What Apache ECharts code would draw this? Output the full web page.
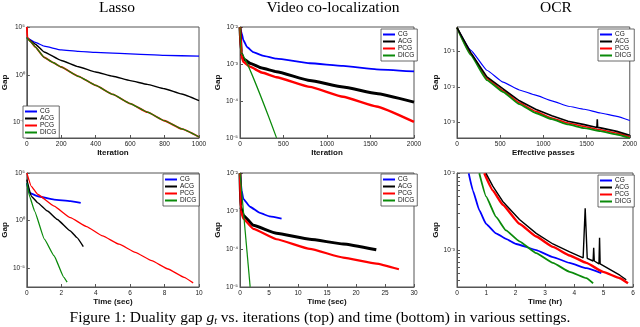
<!DOCTYPE html>
<html>
<head>
<meta charset="utf-8">
<script src="https://cdn.jsdelivr.net/npm/echarts@6/dist/echarts.min.js"></script>
<style>
  html, body { margin: 0; padding: 0; background: #fff; }
  #main { width: 640px; height: 327px; }
</style>
</head>
<body>
<div id="main"></div>
<script>
// ---- data ----
// Lasso, gap vs iteration
var lassoIterCgX = [0, 50, 100, 200, 300, 400, 600, 800, 1000];
var lassoIterCgY = [7.9e3, 2.5e3, 1.0e3, 400, 280, 220, 160, 110, 89];
var lassoIterAcgX = [0, 50, 100, 200, 300, 400, 500, 600, 700, 800, 900, 1000];
var lassoIterAcgY = [7.9e3, 1.6e3, 250, 32, 7.1, 2.0, 0.71, 0.25, 0.1, 3.5e-2, 1e-2, 2e-3];
var lassoIterPcgX = [0, 3, 20, 50, 100, 150, 200, 300, 400, 500, 600, 700, 800, 900, 1000];
var lassoIterPcgY = [1e5, 7.9e3, 3.2e3, 790, 69, 20, 6.6, 0.71, 7.9e-2, 8.9e-3, 1e-3, 1.26e-4, 1.6e-5, 2.2e-6, 3.2e-7];
var lassoIterDicgX = [0, 20, 50, 100, 150, 200, 300, 400, 500, 600, 700, 800, 900, 1000];
var lassoIterDicgY = [7.9e3, 3.2e3, 790, 69, 20, 6.6, 0.71, 7.9e-2, 8.9e-3, 1e-3, 1.26e-4, 1.6e-5, 2.2e-6, 3.2e-7];

// Video co-localization, gap vs iteration
var videoIterCgX = [0, 19, 38, 80, 153, 260, 420, 803, 1185, 1568, 2000];
var videoIterCgY = [1e-2, 6.9e-3, 4.5e-3, 2.9e-3, 2.1e-3, 1.7e-3, 1.4e-3, 1.05e-3, 8.9e-4, 7.2e-4, 6.3e-4];
var videoIterAcgX = [0, 15, 38, 115, 250, 420, 803, 1185, 1568, 2000];
var videoIterAcgY = [1e-2, 2.0e-3, 1.4e-3, 1.05e-3, 7.8e-4, 6.2e-4, 3.6e-4, 2.4e-4, 1.6e-4, 9.3e-5];
var videoIterPcgX = [0, 15, 38, 115, 250, 420, 803, 1185, 1568, 2000];
var videoIterPcgY = [1e-2, 1.8e-3, 1.15e-3, 8.5e-4, 5.9e-4, 4.4e-4, 2.4e-4, 1.3e-4, 7.1e-5, 2.7e-5];
var videoIterDicgX = [0, 10, 420];
var videoIterDicgY = [1e-2, 2e-3, 1e-5];

// OCR, gap vs effective passes
var ocrIterX = [0, 158, 346, 534, 722, 910, 1098, 1286, 1474, 1662, 1850, 2000];
var ocrIterCgY = [0.48, 0.11, 2.95e-2, 1.35e-2, 8.1e-3, 5.8e-3, 4.0e-3, 2.8e-3, 2.3e-3, 1.8e-3, 1.45e-3, 1.1e-3];
var ocrIterAcgX = [0, 158, 346, 534, 722, 910, 1098, 1286, 1474, 1620, 1624, 1628, 1662, 1850, 2000];
var ocrIterAcgY = [0.48, 9.5e-2, 1.9e-2, 8.7e-3, 4.0e-3, 2.3e-3, 1.5e-3, 1.05e-3, 8.4e-4, 7.0e-4, 1.2e-3, 7.0e-4, 6.8e-4, 5.4e-4, 4.2e-4];
var ocrIterPcgY = [0.48, 8.9e-2, 1.7e-2, 7.8e-3, 3.5e-3, 2.0e-3, 1.3e-3, 9.3e-4, 7.4e-4, 6.0e-4, 4.8e-4, 3.8e-4];
var ocrIterDicgY = [0.48, 8.1e-2, 1.55e-2, 7.1e-3, 3.2e-3, 1.8e-3, 1.2e-3, 8.5e-4, 6.7e-4, 5.5e-4, 4.4e-4, 3.5e-4];

// Lasso, gap vs time (sec)
var lassoTimeCgX = [0, 0.17, 0.64, 1.58, 2.53, 3.13];
var lassoTimeCgY = [8.9e3, 790, 360, 160, 110, 72];
var lassoTimeAcgX = [0, 0.26, 0.64, 1.2, 1.77, 2.53, 2.91, 3.28];
var lassoTimeAcgY = [2e4, 360, 72, 10, 1.3, 7.9e-2, 1.6e-2, 1.8e-3];
var lassoTimePcgX = [0, 0.26, 0.64, 1.58, 2.53, 3.47, 4.4, 5.36, 6.3, 7.25, 8.2, 9.13, 9.66];
var lassoTimePcgY = [1e5, 4e3, 550, 33, 2.0, 0.23, 2.4e-2, 3.2e-3, 4.4e-4, 5.9e-5, 7.9e-6, 1.05e-6, 2.7e-7];
var lassoTimeDicgX = [0, 0.17, 0.45, 1.02, 1.58, 2.15, 2.34];
var lassoTimeDicgY = [8.9e3, 320, 10, 1.1e-2, 1.95e-4, 1.05e-6, 3.2e-7];

// Video co-localization, gap vs time (sec)
var videoTimeCgX = [0, 0.29, 0.57, 1.72, 3.44, 5.16, 7.17];
var videoTimeCgY = [1e-2, 3.5e-3, 2.1e-3, 1.3e-3, 8.9e-4, 7.2e-4, 6.3e-4];
var videoTimeAcgX = [0, 0.11, 0.57, 2.29, 6.3, 12.05, 17.8, 23.5];
var videoTimeAcgY = [1e-2, 1.3e-3, 7.8e-4, 4.2e-4, 2.6e-4, 1.8e-4, 1.35e-4, 9.5e-5];
var videoTimePcgX = [0, 0.11, 0.57, 2.29, 6.3, 12.05, 17.8, 23.5, 27.4];
var videoTimePcgY = [1e-2, 1.05e-3, 6.3e-4, 3.4e-4, 1.8e-4, 1e-4, 5.9e-5, 4.1e-5, 2.9e-5];
var videoTimeDicgX = [0, 1.75];
var videoTimeDicgY = [1e-2, 1e-5];

// OCR, gap vs time (hr)
var ocrTimeCgX = [0.4, 0.54, 0.76, 0.99, 1.33, 1.67, 2.02, 2.7, 3.27, 3.84, 4.41, 4.92];
var ocrTimeCgY = [1e-2, 6.0e-3, 3.3e-3, 2.2e-3, 1.65e-3, 1.4e-3, 1.2e-3, 1e-3, 8.1e-4, 6.8e-4, 5.8e-4, 5.0e-4];
var ocrTimeAcgX = [0.99, 1.22, 1.56, 2.13, 2.7, 3.27, 3.84, 4.3, 4.37, 4.44, 4.64, 4.66, 4.68, 4.84, 4.86, 4.88, 5.55, 5.77];
var ocrTimeAcgY = [1e-2, 6.8e-3, 4.3e-3, 2.5e-3, 1.65e-3, 1.2e-3, 9.5e-4, 7.9e-4, 3.5e-3, 7.8e-4, 7.2e-4, 1.07e-3, 7.2e-4, 6.6e-4, 1.45e-3, 6.6e-4, 4.7e-4, 4.1e-4];
var ocrTimePcgX = [0.93, 1.22, 1.56, 2.13, 2.7, 3.27, 3.84, 4.41, 4.98, 5.55, 5.83];
var ocrTimePcgY = [1e-2, 6.0e-3, 3.9e-3, 2.2e-3, 1.5e-3, 1.1e-3, 8.5e-4, 6.8e-4, 5.2e-4, 4.3e-4, 3.7e-4];
var ocrTimeDicgX = [0.76, 0.99, 1.33, 1.67, 2.13, 2.7, 3.27, 3.84, 4.41, 4.64];
var ocrTimeDicgY = [1e-2, 5.0e-3, 2.7e-3, 1.8e-3, 1.3e-3, 9.1e-4, 6.8e-4, 5.2e-4, 4.3e-4, 3.7e-4];

var methods = ['CG', 'ACG', 'PCG', 'DICG'];
var colors = {CG: '#0000ff', ACG: '#000000', PCG: '#ff0000', DICG: '#0a8a0a'};
var titles = ['Lasso', 'Video co-localization', 'OCR'];
var xNames = ['Iteration', 'Iteration', 'Effective passes', 'Time (sec)', 'Time (sec)', 'Time (hr)'];

// ---- layout ----
var cols = [{left: 22, width: 177}, {left: 240, width: 174}, {left: 457, width: 176}];
var rows = [{top: 27, height: 111}, {top: 173, height: 114}];

var SUP = {'-': '\u207b', '0': '\u2070', '1': '\u00b9', '2': '\u00b2', '3': '\u00b3',
  '4': '\u2074', '5': '\u2075', '6': '\u2076', '7': '\u2077', '8': '\u2078', '9': '\u2079'};
function powLabel(v) {
  var e = Math.round(Math.log10(v));
  return '10' + String(e).split('').map(function (c) { return SUP[c]; }).join('');
}

function pts(xs, ys) {
  return xs.map(function (x, i) { return [x, ys[i]]; });
}

var grids = [];
rows.forEach(function (r) {
  cols.forEach(function (c) {
    grids.push({left: c.left, top: r.top, width: c.width, height: r.height,
      show: true, borderColor: '#555', borderWidth: 1, backgroundColor: 'transparent'});
  });
});

var axisFont = {fontSize: 6.5, color: '#222', fontFamily: 'Liberation Sans'};
var nameFont = {fontSize: 8, fontWeight: 'bold', color: '#111', fontFamily: 'Liberation Sans'};

function xAx(gi, max, interval) {
  return {
    type: 'value', gridIndex: gi, min: 0, max: max, interval: interval,
    name: xNames[gi], nameLocation: 'middle', nameGap: gi < 3 ? 11 : 10, nameTextStyle: nameFont,
    axisLine: {lineStyle: {color: '#555'}},
    axisTick: {inside: true, length: 3, lineStyle: {color: '#555'}},
    axisLabel: Object.assign({margin: 3, formatter: function (v) { return String(v); }}, axisFont),
    splitLine: {show: false}
  };
}

function yAx(gi, min, max, ticks, minor, gap) {
  return {
    type: 'log', logBase: 10, gridIndex: gi, min: min, max: max,
    name: 'Gap', nameLocation: 'middle', nameGap: gap, nameTextStyle: nameFont,
    axisLine: {show: true, lineStyle: {color: '#555'}},
    axisTick: {inside: true, length: 3, customValues: ticks.concat(minor), lineStyle: {color: '#555'}},
    axisLabel: Object.assign({margin: 2, customValues: ticks, formatter: powLabel}, axisFont),
    splitLine: {show: false}
  };
}

var xAxes = [
  xAx(0, 1000, 200), xAx(1, 2000, 500), xAx(2, 2000, 500),
  xAx(3, 10, 2), xAx(4, 30, 5), xAx(5, 6, 1)
];
var yAxes = [
  yAx(0, 2.5e-7, 1.01e5, [1e5, 1, 1e-5], [], 13),
  yAx(1, 0.99e-5, 1.01e-2, [1e-2, 1e-3, 1e-4, 1e-5], [], 17),
  yAx(2, 3.5e-4, 0.5, [1e-1, 1e-2, 1e-3], [], 17),
  yAx(3, 1e-7, 1.01e5, [1e5, 1, 1e-5], [], 13),
  yAx(4, 0.99e-5, 1.01e-2, [1e-2, 1e-3, 1e-4, 1e-5], [], 17),
  yAx(5, 3.3e-4, 1.01e-2, [1e-2, 1e-3],
    [4e-4, 5e-4, 6e-4, 7e-4, 8e-4, 9e-4, 2e-3, 3e-3, 4e-3, 5e-3, 6e-3, 7e-3, 8e-3, 9e-3], 17)
];

var panels = [
  {CG: pts(lassoIterCgX, lassoIterCgY), ACG: pts(lassoIterAcgX, lassoIterAcgY),
   PCG: pts(lassoIterPcgX, lassoIterPcgY), DICG: pts(lassoIterDicgX, lassoIterDicgY)},
  {CG: pts(videoIterCgX, videoIterCgY), ACG: pts(videoIterAcgX, videoIterAcgY),
   PCG: pts(videoIterPcgX, videoIterPcgY), DICG: pts(videoIterDicgX, videoIterDicgY)},
  {CG: pts(ocrIterX, ocrIterCgY), ACG: pts(ocrIterAcgX, ocrIterAcgY),
   PCG: pts(ocrIterX, ocrIterPcgY), DICG: pts(ocrIterX, ocrIterDicgY)},
  {CG: pts(lassoTimeCgX, lassoTimeCgY), ACG: pts(lassoTimeAcgX, lassoTimeAcgY),
   PCG: pts(lassoTimePcgX, lassoTimePcgY), DICG: pts(lassoTimeDicgX, lassoTimeDicgY)},
  {CG: pts(videoTimeCgX, videoTimeCgY), ACG: pts(videoTimeAcgX, videoTimeAcgY),
   PCG: pts(videoTimePcgX, videoTimePcgY), DICG: pts(videoTimeDicgX, videoTimeDicgY)},
  {CG: pts(ocrTimeCgX, ocrTimeCgY), ACG: pts(ocrTimeAcgX, ocrTimeAcgY),
   PCG: pts(ocrTimePcgX, ocrTimePcgY), DICG: pts(ocrTimeDicgX, ocrTimeDicgY)}
];
// line widths per panel (the noisy curves look thicker)
var widths = [
  {CG: 1.3, ACG: 1.4, PCG: 1.8, DICG: 1.2},
  {CG: 1.8, ACG: 3, PCG: 2.4, DICG: 1.2},
  {CG: 1.2, ACG: 1.6, PCG: 1.6, DICG: 1.8},
  {CG: 1.8, ACG: 1.4, PCG: 1.3, DICG: 1.3},
  {CG: 1.8, ACG: 3, PCG: 2.2, DICG: 1.2},
  {CG: 1.8, ACG: 1.4, PCG: 2.4, DICG: 1.8}
];
// drawing order per panel
var order = [
  ['CG', 'ACG', 'PCG', 'DICG'], ['CG', 'ACG', 'PCG', 'DICG'], ['CG', 'PCG', 'DICG', 'ACG'],
  ['CG', 'ACG', 'PCG', 'DICG'], ['CG', 'ACG', 'PCG', 'DICG'], ['CG', 'DICG', 'PCG', 'ACG']
];

var series = [];
panels.forEach(function (p, gi) {
  order[gi].forEach(function (m) {
    var spiky = m === 'ACG' && (gi === 2 || gi === 5);
    series.push({
      name: m, type: 'line', xAxisIndex: gi, yAxisIndex: gi,
      data: p[m], showSymbol: false, symbol: 'none', clip: true,
      smooth: spiky ? false : 0.12, smoothMonotone: 'x',
      lineStyle: {color: colors[m], width: widths[gi][m]},
      itemStyle: {color: colors[m]},
      emphasis: {disabled: true}
    });
  });
});

var legendPos = [
  {left: 23, top: 106}, {left: 381, top: 29}, {left: 598, top: 29},
  {left: 163, top: 174}, {left: 381, top: 174}, {left: 598, top: 175}
];
var legends = legendPos.map(function (pos) {
  return {
    left: pos.left, top: pos.top, orient: 'vertical', data: methods,
    icon: 'rect', itemWidth: 12, itemHeight: 2, itemGap: 0,
    padding: [2, 3, 2, 2], backgroundColor: '#fff', borderColor: '#444', borderWidth: 0.8,
    textStyle: {fontSize: 6.5, lineHeight: 7, color: '#111', fontFamily: 'Liberation Sans', padding: [0, 0, 0, -2]},
    selectedMode: false
  };
});

var serif = {fontFamily: 'Liberation Serif', color: '#000', fontWeight: 'normal'};
var titleX = [117, 333, 556];
var titleList = titles.map(function (t, i) {
  return {text: t, left: titleX[i], top: 0, textAlign: 'center', padding: 0,
    textStyle: Object.assign({fontSize: 15.5}, serif)};
});
titleList.push({
  text: '{n|Figure 1: Duality gap }{i|g}{s|t}{n| vs. iterations (top) and time (bottom) in various settings.}',
  left: 320, top: 309, textAlign: 'center', padding: 0,
  textStyle: {
    fontWeight: 'normal',
    rich: {
      n: Object.assign({fontSize: 15.5, lineHeight: 17}, serif),
      i: Object.assign({fontSize: 15.5, lineHeight: 17, fontStyle: 'italic'}, serif),
      s: Object.assign({fontSize: 10, lineHeight: 14, fontStyle: 'italic', verticalAlign: 'bottom'}, serif)
    }
  }
});

var chart = echarts.init(document.getElementById('main'), null, {renderer: 'canvas'});
chart.setOption({
  animation: false,
  backgroundColor: '#fff',
  title: titleList,
  legend: legends,
  grid: grids,
  xAxis: xAxes,
  yAxis: yAxes,
  series: series
});
</script>
</body>
</html>
